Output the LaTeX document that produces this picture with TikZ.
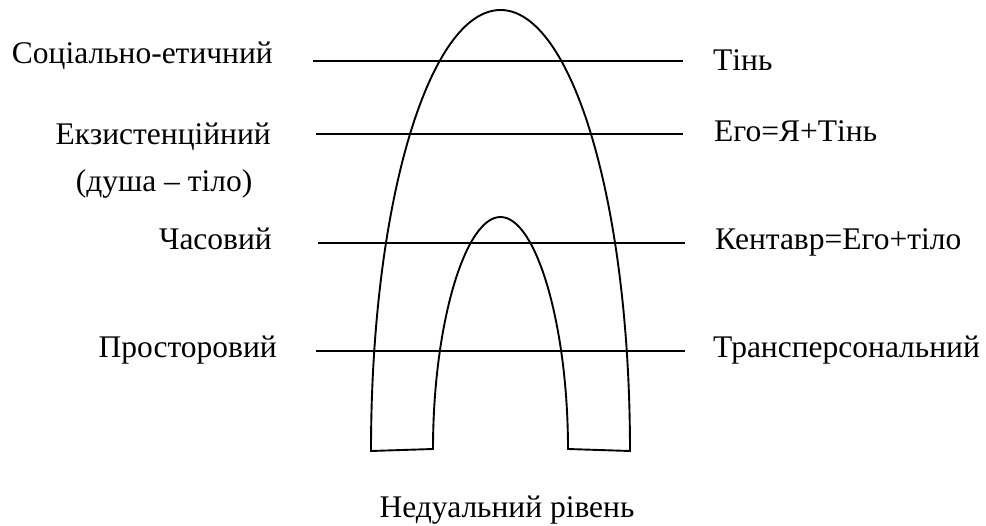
\documentclass[tikz,border=0pt]{standalone}
\usepackage{fontspec}
\setmainfont{Liberation Serif}
\newfontfamily\tnr{Liberation Serif}
\begin{document}
\begin{tikzpicture}[x=1pt,y=-1pt,
  lbl/.style={inner sep=0pt,font=\tnr\fontsize{31.5}{37}\selectfont},
  lvl/.style={line width=1.9pt},
  arch/.style={line width=1.9pt,line join=miter}]
\useasboundingbox (0,0) rectangle (986,526);
% arches
\draw[arch] (371,451) .. controls (371,200) and (430,10) .. (500.5,10)
  .. controls (571,10) and (630,200) .. (630,451) -- (568,449)
  .. controls (568,325) and (536,217) .. (500.5,217)
  .. controls (465,217) and (433,325) .. (433,449) -- cycle;
% level lines
\coordinate (l1) at (313,61);  \coordinate (r1) at (683,61);
\coordinate (l2) at (316,134); \coordinate (r2) at (683,134);
\coordinate (l3) at (318,243); \coordinate (r3) at (685,243);
\coordinate (l4) at (316,351); \coordinate (r4) at (685,351);
\draw[lvl] (l1) -- (r1);
\draw[lvl] (l2) -- (r2);
\draw[lvl] (l3) -- (r3);
\draw[lvl] (l4) -- (r4);
% left labels
\node[lbl,anchor=base east] (a1) at (273,64) {Соціально-етичний};
\node[lbl,anchor=base east] (a2) at (271,145) {Екзистенційний};
\node[lbl,anchor=base] (a2b) at (164,192) {(душа – тіло)};
\node[lbl,anchor=base east] (a3) at (272,250) {Часовий};
\node[lbl,anchor=base east] (a4) at (277,358) {Просторовий};
% right labels
\node[lbl,anchor=base west] (b1) at (713,71) {Тінь};
\node[lbl,anchor=base west] (b2) at (714,142) {Его=Я+Тінь};
\node[lbl,anchor=base west] (b3) at (715,250) {Кентавр=Его+тіло};
\node[lbl,anchor=base west] (b4) at (713,358) {Трансперсональний};
% bottom
\node[lbl,anchor=base] (c) at (507,518) {Недуальний рівень};
\end{tikzpicture}
\end{document}
